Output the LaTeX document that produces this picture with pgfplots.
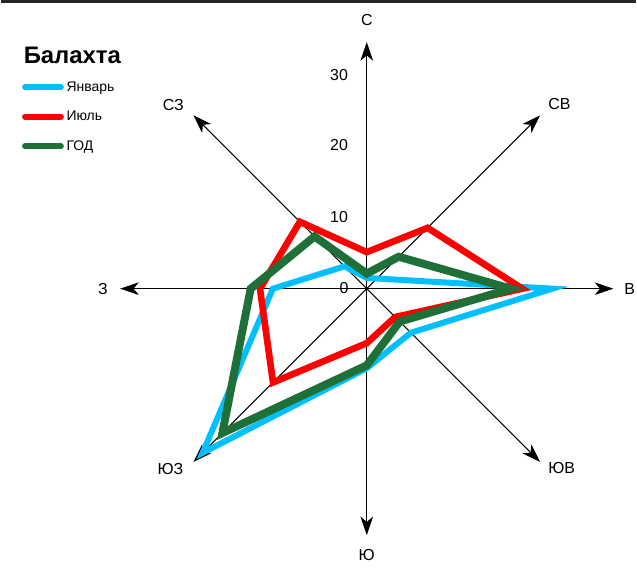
\documentclass[border=0pt]{standalone}
\usepackage{fontspec}
\setmainfont{Liberation Sans}
\usepackage{pgfplots}
\pgfplotsset{compat=1.18}
\usepgfplotslibrary{polar}
\usetikzlibrary{arrows.meta}
\definecolor{jan}{RGB}{0,191,255}
\definecolor{jul}{RGB}{255,0,0}
\definecolor{god}{RGB}{30,112,56}

\begin{document}
\begin{tikzpicture}
\begin{axis}[
    x=5.4pt, y=5.4pt,
    xmin=-50.97, xmax=37.5,
    ymin=-40.97, ymax=40.28,
    hide axis,
    clip=false,
    axisline/.style={black, line width=0.75pt,
        -{Stealth[length=14pt,width=9.5pt,inset=4pt]}, data cs=polar, forget plot},
    rose/.style={line join=miter, data cs=polar, forget plot},
    legend style={at={(axis description cs:0.032,0.865)}, anchor=north west,
        draw=none, fill=none, inner sep=0pt, row sep=9.5pt,
        font=\fontsize{10.5}{12.6}\selectfont,
        cells={anchor=west}, nodes={inner sep=2pt}},
    legend image code/.code={\draw[#1, line width=4.5pt, line cap=round] (2pt,0pt) -- (29pt,0pt);},
]
% frame + bounding box
\path (rel axis cs:0,0) rectangle (rel axis cs:1,1);
\draw[black!85, line width=2.25pt] (axis cs:-50.97,40.07) -- (axis cs:37.5,40.07);

% direction axes
\addplot[axisline] coordinates {(0,0) (90,34.4)};
\addplot[axisline] coordinates {(0,0) (45,34.2)};
\addplot[axisline] coordinates {(0,0) (0,34.4)};
\addplot[axisline] coordinates {(0,0) (-45,34.2)};
\addplot[axisline] coordinates {(0,0) (-90,34.4)};
\addplot[axisline] coordinates {(0,0) (-135,34.2)};
\addplot[axisline] coordinates {(0,0) (180,34.4)};
\addplot[axisline] coordinates {(0,0) (135,34.2)};

% Январь
\addplot[rose, jan, line width=4.5pt] coordinates {
    (90,1.5) (45,2.0) (0,25.9) (-45,8.7) (-90,11.1) (-135,32.4) (180,13.1) (135,4.4)
} -- cycle;
% Июль
\addplot[rose, jul, line width=5pt] coordinates {
    (90,5.1) (45,12.0) (0,21.7) (-45,5.6) (-90,7.6) (-135,18.5) (180,14.9) (135,13.2)
} -- cycle;
% ГОД
\addplot[rose, god, line width=6pt] coordinates {
    (90,2.1) (45,6.3) (0,20.1) (-45,6.5) (-90,10.7) (-135,28.5) (180,16.2) (135,10.3)
} -- cycle;

\addlegendimage{jan}
\addlegendentry{Январь}
\addlegendimage{jul}
\addlegendentry{Июль}
\addlegendimage{god}
\addlegendentry{ГОД}

% scale labels
\begin{scope}[every node/.style={font=\fontsize{12}{14}\selectfont, inner sep=0pt}]
\node[anchor=east] at (axis cs:-2.5,0.1) {0};
\node[anchor=east] at (axis cs:-2.6,10) {10};
\node[anchor=east] at (axis cs:-2.6,20) {20};
\node[anchor=east] at (axis cs:-2.6,29.8) {30};
% direction labels
\node at (axis cs:0,37.5) {С};
\node at (axis cs:26.9,25.7) {СВ};
\node at (axis cs:36.7,0) {В};
\node at (axis cs:27.2,-25) {ЮВ};
\node at (axis cs:0,-37.2) {Ю};
\node at (axis cs:-27.4,-25.1) {ЮЗ};
\node at (axis cs:-36.8,0) {З};
\node at (axis cs:-27,25.6) {СЗ};
\end{scope}
\node[anchor=west, inner sep=0pt, font=\bfseries\fontsize{18}{20}\selectfont]
    at (axis cs:-47.9,32.5) {Балахта};
\end{axis}
\end{tikzpicture}
\end{document}
